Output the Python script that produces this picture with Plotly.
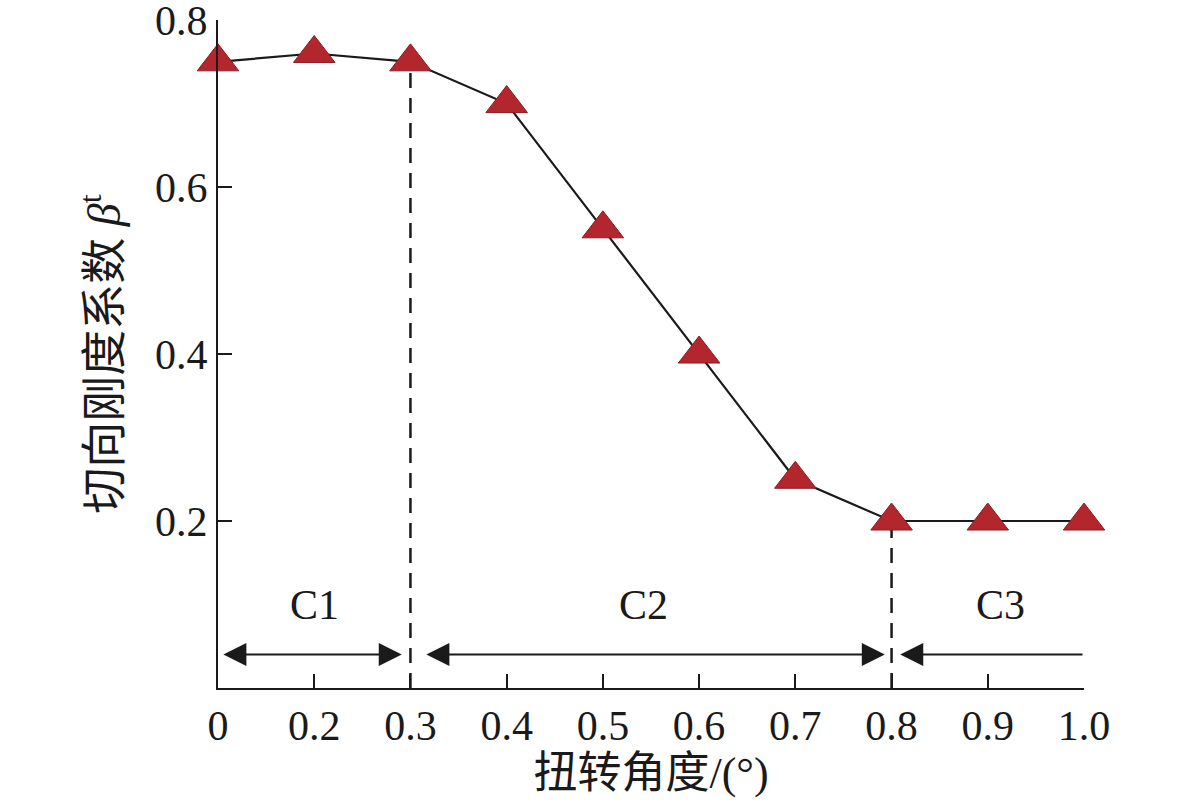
import plotly.graph_objects as go

angle_labels = ["0", "0.2", "0.3", "0.4", "0.5", "0.6", "0.7", "0.8", "0.9", "1.0"]
beta_t = [0.75, 0.76, 0.75, 0.70, 0.55, 0.40, 0.25, 0.20, 0.20, 0.20]
y_ticks = [0.2, 0.4, 0.6, 0.8]
stage_labels = ["C1", "C2", "C3"]

SERIF = "Liberation Serif, Times New Roman, serif"
CJK = "Liberation Serif, Noto Sans CJK SC, serif"
INK = "#1a1a1a"

fig = go.Figure()
fig.add_trace(go.Scatter(
    x=angle_labels, y=beta_t, mode="lines+markers",
    line=dict(color=INK, width=2.2),
    marker=dict(symbol="triangle-up", size=36, color="#B3262D",
                line=dict(color="#8f1c22", width=1)),
    cliponaxis=False, showlegend=False,
))

# dashed separators at the stage boundaries
for idx in (2, 7):
    fig.add_shape(type="line", xref="x", yref="y", x0=idx, x1=idx, y0=0, y1=beta_t[idx],
                  line=dict(color=INK, width=2.5, dash="15px,10px"), layer="below")

arrow_y = 0.04
arr = dict(xref="x", yref="y", axref="x", ayref="y", text="", showarrow=True,
           arrowcolor=INK, arrowwidth=2, arrowsize=2.3, arrowhead=2,
           startarrowhead=2, startarrowsize=2.3)
# C1
fig.add_annotation(x=1.91, y=arrow_y, ax=0.04, ay=arrow_y, arrowside="end+start", **arr)
# C2
fig.add_annotation(x=6.93, y=arrow_y, ax=2.15, ay=arrow_y, arrowside="end+start", **arr)
# C3
fig.add_annotation(x=7.09, y=arrow_y, ax=9.0, ay=arrow_y, arrowside="end", **arr)

for label, xc in zip(stage_labels, (1.0, 4.42, 8.13)):
    fig.add_annotation(x=xc, y=0.1, xref="x", yref="y", text=label, showarrow=False,
                       font=dict(family=SERIF, size=42, color=INK))

fig.update_layout(
    width=1181, height=806,
    margin=dict(l=218, r=97, t=20, b=118),
    paper_bgcolor="white", plot_bgcolor="white",
    font=dict(family=SERIF, size=42, color=INK),
    xaxis=dict(
        type="category", range=[0, len(angle_labels) - 1], automargin=False,
        showline=True, linecolor=INK, linewidth=2,
        ticks="inside", ticklen=14, tickwidth=2, tickcolor=INK,
        showgrid=False, zeroline=False, ticklabeloverflow="allow",
        tickfont=dict(family=SERIF, size=42),
        title=dict(text="扭转角度/(°)", font=dict(family=CJK, size=44), standoff=6),
    ),
    yaxis=dict(
        range=[0, 0.8001], tickvals=y_ticks, ticktext=[f"{v:.1f}" for v in y_ticks],
        automargin=False, ticklabeloverflow="allow",
        showline=True, linecolor=INK, linewidth=2,
        ticks="inside", ticklen=14, tickwidth=2, tickcolor=INK,
        showgrid=False, zeroline=False,
        tickfont=dict(family=SERIF, size=42),
        title=dict(text="切向刚度系数 <i>β</i><sup>t</sup>", font=dict(family=CJK, size=46), standoff=20),
    ),
)

fig.write_html("out.html", config={"displayModeBar": False},
               post_script="document.body.style.margin='0';")
